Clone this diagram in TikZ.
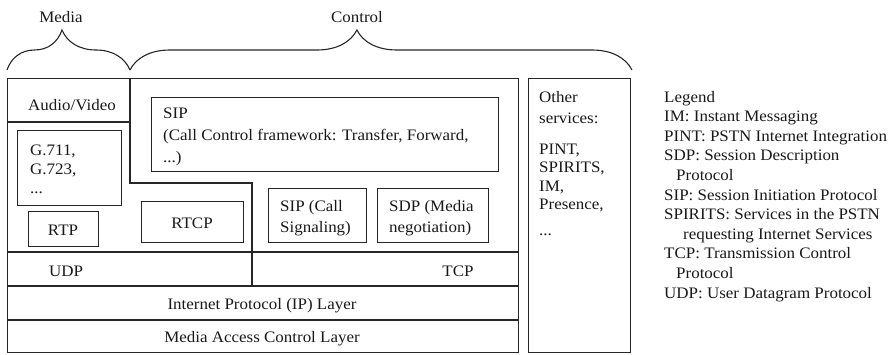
\documentclass[tikz,border=0pt]{standalone}
\usepackage{fontspec}
\setmainfont{Liberation Serif}[FakeStretch=1.06]
\usetikzlibrary{decorations.pathreplacing}
\begin{document}
\begin{tikzpicture}[x=1pt,y=-1pt,
  ln/.style={draw=black!85,line width=1.3pt},
  box/.style={ln,rectangle,inner sep=0pt,anchor=north west},
  txt/.style={inner sep=0pt,text=black!90,font=\fontsize{16}{19.6}\selectfont},
  lbl/.style={txt,anchor=base},
  lblw/.style={txt,anchor=base west,align=left},
  bracedeco/.style={draw=black!85,line width=1.1pt,decorate,decoration={brace,amplitude=40pt,aspect=#1}}
]
\useasboundingbox (0,0) rectangle (893,354);

% outer frames
\node[box,minimum width=511pt,minimum height=274pt] (main) at (7,78) {};
\node[box,minimum width=102pt,minimum height=274pt] (other) at (528,78) {};

% partition lines
\draw[ln] (7,122) -- (130,122);
\draw[ln] (130,78) -- (130,183) -- (252,183) -- (252,286);
\draw[ln] (7,252) -- (518,252);
\draw[ln] (7,286) -- (518,286);
\draw[ln] (7,320) -- (518,320);

% inner boxes
\node[box,minimum width=104pt,minimum height=75pt] (g711) at (17,130) {};
\node[box,minimum width=70pt,minimum height=35pt] (rtp) at (28,211) {};
\node[box,minimum width=102pt,minimum height=41pt] (rtcp) at (141,201) {};
\node[box,minimum width=347pt,minimum height=74pt] (sipfw) at (151,97) {};
\node[box,minimum width=98pt,minimum height=54pt] (sipsig) at (268,188) {};
\node[box,minimum width=111pt,minimum height=54pt] (sdp) at (377,188) {};

% braces
\coordinate (mediaL) at (7,70);
\coordinate (mediaR) at (130,70);
\coordinate (ctrlR) at (632,70);
\draw[bracedeco=0.447] (mediaL) -- (mediaR);
\draw[bracedeco=0.452] (mediaR) -- (ctrlR);
\node[lbl] (tmedia) at (61,22) {Media};
\node[lbl] (tcontrol) at (357,22) {Control};

% texts (multi-line nodes: base = last line)
\node[lbl] (tav) at (72,110) {Audio/Video};
\node[lblw,font=\fontsize{16}{22}\selectfont] (tsipfw) at (163,162) {SIP\\(Call Control framework: Transfer, Forward,\\...)};
\node[lblw,font=\fontsize{16}{19}\selectfont] (tg711) at (30,193) {G.711,\\G.723,\\...};
\node[lbl] (trtp) at (63,235) {RTP};
\node[lbl] (trtcp) at (192,228) {RTCP};
\node[lblw,font=\fontsize{16}{21}\selectfont] (tsipsig) at (280,232) {SIP (Call\\Signaling)};
\node[lblw,font=\fontsize{16}{21}\selectfont] (tsdp) at (389,232) {SDP (Media\\negotiation)};
\node[lbl] (tudp) at (66,276) {UDP};
\node[lbl] (ttcp) at (458,276) {TCP};
\node[lbl] (tip) at (262,309) {Internet Protocol (IP) Layer};
\node[lbl] (tmac) at (262,342) {Media Access Control Layer};
\node[lblw,font=\fontsize{16}{18.5}\selectfont] (tother) at (539,235)
  {Other\\[2.5pt]services:\\[12.5pt]PINT,\\SPIRITS,\\IM,\\Presence,\\[7pt]...};
\node[lblw] (tlegend) at (664,298) {Legend\\
IM: Instant Messaging\\
PINT: PSTN Internet Integration\\
SDP: Session Description\\
\hspace*{12pt}Protocol\\
SIP: Session Initiation Protocol\\
SPIRITS: Services in the PSTN\\
\hspace*{19pt}requesting Internet Services\\
TCP: Transmission Control\\
\hspace*{12pt}Protocol\\
UDP: User Datagram Protocol};
\end{tikzpicture}
\end{document}
